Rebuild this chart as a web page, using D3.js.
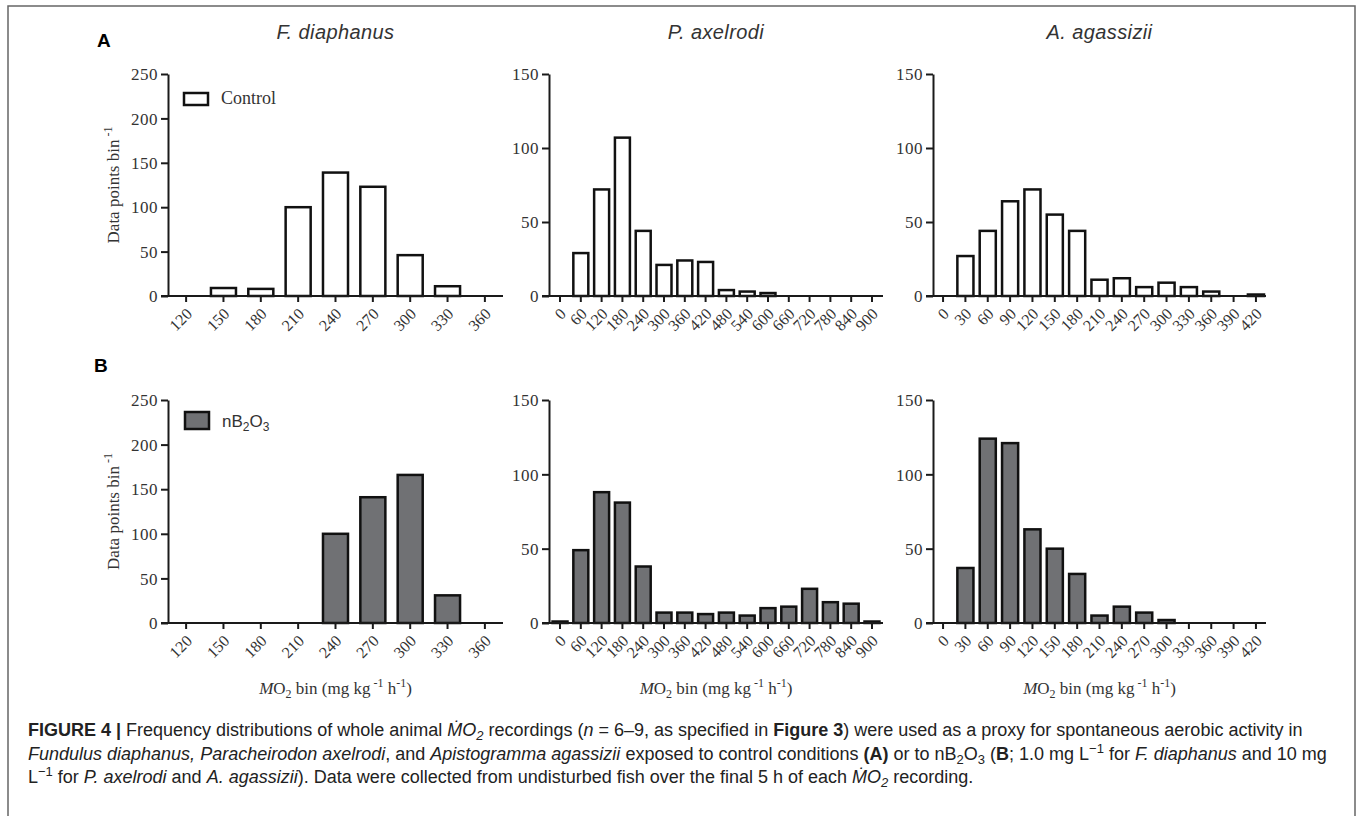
<!DOCTYPE html>
<html>
<head>
<meta charset="utf-8">
<script src="https://cdn.jsdelivr.net/npm/d3@7/dist/d3.min.js"></script>
<style>
  body { margin: 0; background: #fff; }
  svg text { fill: #333; }
  .tick line, .domain { stroke: #1a1a1a; stroke-width: 2; }
</style>
</head>
<body>
<div id="fig"></div>
<script>
// bins (mg kg-1 h-1)
var fdBins = [120, 150, 180, 210, 240, 270, 300, 330, 360];
var paBins = [0, 60, 120, 180, 240, 300, 360, 420, 480, 540, 600, 660, 720, 780, 840, 900];
var aaBins = [0, 30, 60, 90, 120, 150, 180, 210, 240, 270, 300, 330, 360, 390, 420];

// counts per bin, control (A)
var fdControl = [0, 9, 8, 100, 139, 123, 46, 11, 0];
var paControl = [0, 29, 72, 107, 44, 21, 24, 23, 4, 3, 2, 0, 0, 0, 0, 0];
var aaControl = [0, 27, 44, 64, 72, 55, 44, 11, 12, 6, 9, 6, 3, 0, 1];

// counts per bin, nB2O3 (B)
var fdNano = [0, 0, 0, 0, 100, 141, 166, 31, 0];
var paNano = [1, 49, 88, 81, 38, 7, 7, 6, 7, 5, 10, 11, 23, 14, 13, 1];
var aaNano = [0, 37, 124, 121, 63, 50, 33, 5, 11, 7, 2, 0, 0, 0, 0];

var species = ["F. diaphanus", "P. axelrodi", "A. agassizii"];
var yMaxes = [250, 150, 150];
var fdYTicks = [0, 50, 100, 150, 200, 250];
var otherYTicks = [0, 50, 100, 150];

var width = 1357, height = 816;
var serif = "'Liberation Serif', 'Times New Roman', serif";
var sans = "'Liberation Sans', Arial, sans-serif";
var grayFill = "#707174";

var svg = d3.select("#fig").append("svg")
    .attr("width", width)
    .attr("height", height);

// frame
svg.append("path")
    .attr("d", "M8,816 V6 H1355 V816")
    .attr("fill", "none")
    .attr("stroke", "#666")
    .attr("stroke-width", 1.5);

// layout of the three columns
var colLeft = [168, 549, 933];
var colRight = [503, 883, 1266];
var padOuter = [0.15, 0.17, 0.09];
var rowTop = [74, 400];
var rowBottom = [296, 623];

var binsList = [fdBins, paBins, aaBins];
var rows = [
  [fdControl, paControl, aaControl],
  [fdNano, paNano, aaNano]
];

function drawPanel(r, c) {
  var bins = binsList[c];
  var vals = rows[r][c];
  var x = d3.scaleBand()
      .domain(bins)
      .range([colLeft[c], colRight[c]])
      .paddingInner(c === 0 ? 0.33 : 0.28)
      .paddingOuter(padOuter[c]);
  var y = d3.scaleLinear()
      .domain([0, yMaxes[c]])
      .range([rowBottom[r], rowTop[r]]);

  var g = svg.append("g");

  // bars
  g.selectAll("rect")
    .data(bins.map(function(b, i) { return { bin: b, v: vals[i] }; })
      .filter(function(d) { return d.v > 0; }))
    .enter()
    .append("rect")
    .attr("x", function(d) { return x(d.bin); })
    .attr("y", function(d) { return y(d.v); })
    .attr("width", x.bandwidth())
    .attr("height", function(d) { return y(0) - y(d.v); })
    .attr("fill", r === 0 ? "#fff" : grayFill)
    .attr("stroke", "#111")
    .attr("stroke-width", 2.5);

  // y axis
  var yAxis = d3.axisLeft(y)
      .tickValues(c === 0 ? fdYTicks : otherYTicks)
      .tickSize(7)
      .tickSizeOuter(0);
  var ya = g.append("g")
      .attr("transform", "translate(" + colLeft[c] + ",0)")
      .call(yAxis);
  ya.selectAll("text")
    .attr("x", -10)
    .attr("dy", "0.34em")
    .style("font-family", serif)
    .style("font-size", "17px")
    .style("letter-spacing", "0.5px");

  // x axis
  var xAxis = d3.axisBottom(x).tickSize(6).tickSizeOuter(0);
  var xa = g.append("g")
      .attr("transform", "translate(0," + rowBottom[r] + ")")
      .call(xAxis);
  xa.select(".domain").attr("d", "M" + (colLeft[c] - 7) + ",0H" + colRight[c]);
  xa.selectAll("text")
    .attr("x", 0)
    .attr("y", 0)
    .attr("dy", "0.35em")
    .attr("text-anchor", "end")
    .attr("transform", "translate(3,15) rotate(-45)")
    .style("font-family", serif)
    .style("font-size", "16px");

  var cx = (colLeft[c] + colRight[c]) / 2;

  // species title
  if (r === 0) {
    svg.append("text")
      .attr("x", cx)
      .attr("y", 39)
      .attr("text-anchor", "middle")
      .style("font-family", sans)
      .style("font-style", "italic")
      .style("font-size", "20px")
      .style("letter-spacing", "0.4px")
      .text(species[c]);
  }

  // x axis title
  if (r === 1) {
    var t = svg.append("text")
      .attr("x", cx)
      .attr("y", 694)
      .attr("text-anchor", "middle")
      .style("font-family", serif)
      .style("font-size", "17px");
    t.append("tspan").style("font-style", "italic").text("M");
    t.append("tspan").text("O");
    t.append("tspan").attr("dy", 4).style("font-size", "12px").text("2");
    t.append("tspan").attr("dy", -4).text(" bin (mg kg");
    t.append("tspan").attr("dy", -7).style("font-size", "12px").text(" -1");
    t.append("tspan").attr("dy", 7).text(" h");
    t.append("tspan").attr("dy", -7).style("font-size", "12px").text("-1");
    t.append("tspan").attr("dy", 7).text(")");
  }

  // y axis title
  if (c === 0) {
    var yl = svg.append("text")
      .attr("transform", "translate(119," + (rowTop[r] + rowBottom[r]) / 2 + ") rotate(-90)")
      .attr("text-anchor", "middle")
      .style("font-family", serif)
      .style("font-size", "17px");
    yl.append("tspan").text("Data points bin");
    yl.append("tspan").attr("dy", -7).style("font-size", "12px").text(" -1");
  }
}

for (var r = 0; r < 2; r++) {
  for (var c = 0; c < 3; c++) {
    drawPanel(r, c);
  }
}

// panel letters
svg.append("text").attr("x", 97).attr("y", 47)
  .style("font-family", sans).style("font-weight", "bold").style("font-size", "19px")
  .style("fill", "#000").text("A");
svg.append("text").attr("x", 94).attr("y", 372)
  .style("font-family", sans).style("font-weight", "bold").style("font-size", "19px")
  .style("fill", "#000").text("B");

// legends
svg.append("rect").attr("x", 184).attr("y", 93).attr("width", 24).attr("height", 12)
  .attr("fill", "#fff").attr("stroke", "#111").attr("stroke-width", 2.5);
svg.append("text").attr("x", 221).attr("y", 104)
  .style("font-family", serif).style("font-size", "18px").text("Control");

svg.append("rect").attr("x", 185).attr("y", 412).attr("width", 24).attr("height", 17)
  .attr("fill", grayFill).attr("stroke", "#111").attr("stroke-width", 2.5);
var lg = svg.append("text").attr("x", 222).attr("y", 427)
  .style("font-family", sans).style("font-size", "17px");
lg.append("tspan").text("nB");
lg.append("tspan").attr("dy", 4).style("font-size", "12px").text("2");
lg.append("tspan").attr("dy", -4).text("O");
lg.append("tspan").attr("dy", 4).style("font-size", "12px").text("3");

// caption
var capLines = [
  [["b", "FIGURE 4 | "], ["", "Frequency distributions of whole animal "], ["i", "M\u0307O"], ["isub", "2"],
   ["", " recordings ("], ["i", "n"], ["", " = 6\u20139, as specified in "], ["b", "Figure 3"],
   ["", ") were used as a proxy for spontaneous aerobic activity in"]],
  [["i", "Fundulus diaphanus, Paracheirodon axelrodi"], ["", ", and "], ["i", "Apistogramma agassizii"],
   ["", " exposed to control conditions "], ["b", "(A)"], ["", " or to nB"], ["sub", "2"], ["", "O"], ["sub", "3"],
   ["", " ("], ["b", "B"], ["", "; 1.0 mg L"], ["sup", "\u22121"], ["", " for "], ["i", "F. diaphanus"], ["", " and 10 mg"]],
  [["", "L"], ["sup", "\u22121"], ["", " for "], ["i", "P. axelrodi"], ["", " and "], ["i", "A. agassizii"],
   ["", "). Data were collected from undisturbed fish over the final 5 h of each "], ["i", "M\u0307O"], ["isub", "2"],
   ["", " recording."]]
];
var capY = [736, 760, 783];

capLines.forEach(function(line, li) {
  var t = svg.append("text")
    .attr("x", 28)
    .attr("y", capY[li])
    .style("font-family", sans)
    .style("font-size", "18px")
    .style("fill", "#222");
  var prev = 0;
  line.forEach(function(seg) {
    var s = t.append("tspan").text(seg[1]);
    var shift = 0;
    if (seg[0] === "b") s.style("font-weight", "bold");
    if (seg[0] === "i" || seg[0] === "isub") s.style("font-style", "italic");
    if (seg[0] === "sub" || seg[0] === "isub") {
      shift = 4;
      s.style("font-size", "13px");
    }
    if (seg[0] === "sup") {
      shift = -7;
      s.style("font-size", "13px");
    }
    s.attr("dy", shift - prev);
    prev = shift;
  });
});
</script>
</body>
</html>
